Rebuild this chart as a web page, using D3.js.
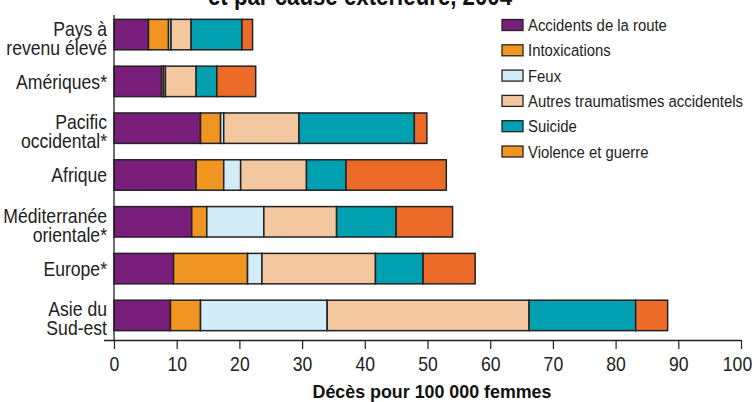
<!doctype html>
<html lang="fr">
<head>
<meta charset="utf-8">
<title>Décès par cause extérieure, 2004</title>
<script src="https://cdn.jsdelivr.net/npm/d3@7/dist/d3.min.js"></script>
<style>
	body { margin: 0; background: #fff; }
	svg { display: block; font-family: "Liberation Sans", Arial, sans-serif; }
</style>
</head>
<body>
<svg id="chart" width="752" height="402"></svg>
<script>
	// regions, top to bottom (lines split for two-line labels)
	var regions = [
		["Pays à", "revenu élevé"],
		["Amériques*"],
		["Pacific", "occidental*"],
		["Afrique"],
		["Méditerranée", "orientale*"],
		["Europe*"],
		["Asie du", "Sud-est"]
	];
	var causes = ["Accidents de la route", "Intoxications", "Feux",
		"Autres traumatismes accidentels", "Suicide", "Violence et guerre"];
	var colors = ["#7a1e7b", "#f09422", "#d2ecf8", "#f3c8a1", "#00a0b0", "#ec6b28"];
	// the source legend shows the last swatch in the orange of "Intoxications"
	var legendColors = ["#7a1e7b", "#f09422", "#d2ecf8", "#f3c8a1", "#00a0b0", "#f09422"];

	// deaths per 100 000 women, one array per cause, in region order
	var road     = [5.5, 7.6, 13.8, 13.1, 12.4, 9.5, 9.0];
	var poison   = [3.2, 0.3, 3.2, 4.4, 2.4, 11.8, 4.8];
	var fires    = [0.4, 0.3, 0.5, 2.7, 9.1, 2.3, 20.2];
	var other    = [3.2, 4.9, 12.0, 10.5, 11.6, 18.1, 32.2];
	var suicide  = [8.1, 3.3, 18.4, 6.3, 9.5, 7.6, 17.0];
	var violence = [1.7, 6.2, 2.0, 16.0, 9.0, 8.3, 5.1];
	var xTicks = [0, 10, 20, 30, 40, 50, 60, 70, 80, 90, 100];

	var series = [road, poison, fires, other, suicide, violence];
	var rows = regions.map(function (r, i) {
		var o = { key: i };
		series.forEach(function (s, j) { o[j] = s[i]; });
		return o;
	});

	var svg = d3.select("#chart");
	var x = d3.scaleLinear([0, 100], [114, 741]);
	var y = d3.scaleBand(d3.range(regions.length), [10, 340]).paddingInner(0.35).paddingOuter(0.2);

	// narrow text: the source uses a condensed face, so squeeze Liberation Sans horizontally
	function narrow(sel, cx, cy, sx) {
		return sel.attr("transform", "translate(" + cx + "," + cy + ") scale(" + sx + ",1)");
	}

	// title, cut off at the top of the frame
	narrow(svg.append("text"), 360, 4.5, 0.89)
		.attr("text-anchor", "middle")
		.attr("font-weight", "bold").attr("font-size", 25)
		.attr("fill", "#111")
		.text("et par cause extérieure, 2004");

	var stack = d3.stack().keys(d3.range(causes.length))(rows);

	svg.append("g").selectAll("g")
		.data(stack)
		.join("g")
		.attr("fill", function (d, i) { return colors[i]; })
		.selectAll("rect")
		.data(function (d) { return d; })
		.join("rect")
		.attr("x", function (d) { return x(d[0]); })
		.attr("y", function (d) { return y(d.data.key); })
		.attr("width", function (d) { return x(d[1]) - x(d[0]); })
		.attr("height", y.bandwidth())
		.attr("stroke", "#222")
		.attr("stroke-width", 1.5);

	// y axis line
	svg.append("line")
		.attr("x1", 114).attr("x2", 114)
		.attr("y1", 15).attr("y2", 340)
		.attr("stroke", "#222").attr("stroke-width", 1.3);

	// region labels
	var lab = narrow(svg.append("g"), 107, 0, 0.88)
		.attr("font-size", 20).attr("fill", "#222").attr("text-anchor", "end");
	regions.forEach(function (lines, i) {
		var cy = y(i) + y.bandwidth() / 2;
		var t = lab.append("text");
		lines.forEach(function (ln, k) {
			t.append("tspan")
				.attr("x", 0)
				.attr("y", lines.length === 1 ? cy + 7.5 : cy + 1 + k * 19)
				.text(ln);
		});
	});

	// x axis
	var xAxis = svg.append("g")
		.attr("transform", "translate(0,340)")
		.call(d3.axisBottom(x).tickValues(xTicks).tickSize(9).tickPadding(4).tickSizeOuter(0));
	xAxis.select(".domain").attr("d", "M104,0.5H741").attr("stroke", "#222").attr("stroke-width", 1.3);
	xAxis.selectAll(".tick line").attr("stroke", "#222").attr("stroke-width", 1.2);
	xAxis.selectAll(".tick text")
		.attr("font-family", "Liberation Sans, Arial, sans-serif")
		.attr("font-size", 20).attr("fill", "#222")
		.attr("dy", "0.9em")
		.attr("transform", function (d) { return (d === 100 ? "translate(-4,0) " : "") + "scale(0.88,1)"; });

	narrow(svg.append("text"), 432, 398, 0.965)
		.attr("text-anchor", "middle")
		.attr("font-weight", "bold").attr("font-size", 18.5)
		.attr("fill", "#111")
		.text("Décès pour 100 000 femmes");

	// legend
	var leg = svg.append("g").attr("transform", "translate(502,25)");
	causes.forEach(function (c, i) {
		var g = leg.append("g").attr("transform", "translate(0," + i * 25.3 + ")");
		g.append("rect")
			.attr("x", 0).attr("y", -5.5)
			.attr("width", 21).attr("height", 11)
			.attr("fill", legendColors[i])
			.attr("stroke", "#222").attr("stroke-width", 1.3);
		narrow(g.append("text"), 26, 6, 0.875)
			.attr("font-size", 17).attr("fill", "#222")
			.text(c);
	});
</script>
</body>
</html>
